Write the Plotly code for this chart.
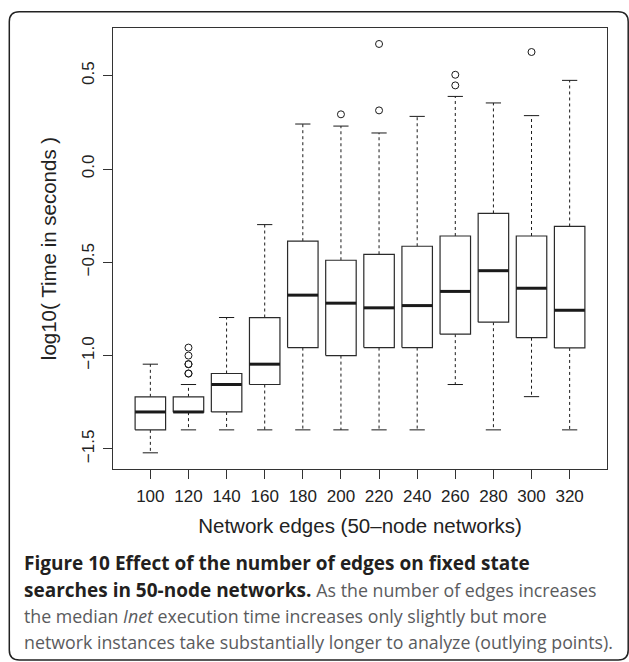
import plotly.graph_objects as go

# ---- data (log10 seconds) ----
categories = ["100", "120", "140", "160", "180", "200", "220", "240", "260", "280", "300", "320"]
q1 = [-1.398, -1.303, -1.302, -1.155, -0.957, -1.000, -0.957, -0.957, -0.885, -0.821, -0.904, -0.959]
median = [-1.302, -1.302, -1.155, -1.046, -0.676, -0.719, -0.744, -0.732, -0.656, -0.545, -0.639, -0.757]
q3 = [-1.221, -1.221, -1.096, -0.796, -0.387, -0.489, -0.457, -0.414, -0.359, -0.238, -0.359, -0.308]
lower_whisker = [-1.521, -1.398, -1.398, -1.398, -1.398, -1.398, -1.398, -1.398, -1.155, -1.398, -1.220, -1.398]
upper_whisker = [-1.046, -1.155, -0.796, -0.298, 0.241, 0.230, 0.193, 0.282, 0.389, 0.354, 0.286, 0.475]
outlier_cat = ["120", "120", "120", "120", "120", "120", "200", "220", "220", "260", "260", "300"]
outlier_val = [-0.957, -1.000, -1.046, -1.046, -1.096, -1.096, 0.293, 0.314, 0.670, 0.448, 0.505, 0.627]

ytick_vals = [-1.5, -1.0, -0.5, 0.0, 0.5]
ytick_text = ["\u22121.5", "\u22121.0", "\u22120.5", "0.0", "0.5"]

BOXW = 0.4   # half box width
CAPW = 0.2   # half staple width
LINE = "#1a1a1a"

pos = {c: i + 1 for i, c in enumerate(categories)}

bx, by = [], []
mx, my = [], []
wx, wy = [], []
cx, cy = [], []
for c, a, m, b, lo, hi in zip(categories, q1, median, q3, lower_whisker, upper_whisker):
    p = pos[c]
    bx += [p - BOXW, p + BOXW, p + BOXW, p - BOXW, p - BOXW, None]
    by += [a, a, b, b, a, None]
    mx += [p - BOXW, p + BOXW, None]
    my += [m, m, None]
    wx += [p, p, None, p, p, None]
    wy += [b, hi, None, a, lo, None]
    cx += [p - CAPW, p + CAPW, None, p - CAPW, p + CAPW, None]
    cy += [hi, hi, None, lo, lo, None]

fig = go.Figure()
fig.add_trace(go.Scatter(x=wx, y=wy, mode="lines", line=dict(color=LINE, width=1, dash="3px,3px"),
                         hoverinfo="skip", showlegend=False))
fig.add_trace(go.Scatter(x=cx, y=cy, mode="lines", line=dict(color=LINE, width=1),
                         hoverinfo="skip", showlegend=False))
fig.add_trace(go.Scatter(x=bx, y=by, mode="lines", line=dict(color="#2a2a2a", width=1.2),
                         fill="toself", fillcolor="white", hoverinfo="skip", showlegend=False))
fig.add_trace(go.Scatter(x=mx, y=my, mode="lines", line=dict(color=LINE, width=3),
                         hoverinfo="skip", showlegend=False))
fig.add_trace(go.Scatter(x=[pos[c] for c in outlier_cat], y=outlier_val, mode="markers",
                         marker=dict(symbol="circle-open", size=7, color=LINE, line=dict(width=1)),
                         hoverinfo="skip", showlegend=False))

W, H = 629, 662
L, R, T, B = 113, 22, 28, 193
PW, PH = W - L - R, H - T - B


def px(x):
    return (x - L) / PW


def py(y):
    return (H - B - y) / PH


AXFONT = "Liberation Sans, Arial, Helvetica, sans-serif"

fig.update_layout(
    width=W, height=H, autosize=False,
    margin=dict(l=L, r=R, t=T, b=B),
    paper_bgcolor="white", plot_bgcolor="white",
    xaxis=dict(range=[0.02, 12.98], tickmode="array", tickvals=list(range(1, len(categories) + 1)),
               ticktext=categories, showline=True, mirror=True, linecolor="#333333", linewidth=1,
               ticks="outside", ticklen=9, tickcolor="#333333", showgrid=False, zeroline=False,
               tickfont=dict(family=AXFONT, size=17, color="#222222"), ticklabelstandoff=3,
               title=dict(text="Network edges (50\u2013node networks)",
                          font=dict(family=AXFONT, size=20.5, color="#222222"), standoff=13)),
    yaxis=dict(range=[-1.6077, 0.7556], tickmode="array", tickvals=ytick_vals, ticktext=ytick_text,
               tickangle=-90, showline=True, mirror=True, linecolor="#333333", linewidth=1,
               ticks="outside", ticklen=9, tickcolor="#333333", showgrid=False, zeroline=False,
               tickfont=dict(family=AXFONT, size=17, color="#222222"), ticklabelstandoff=2,
               title=dict(text="log10( Time in seconds )",
                          font=dict(family=AXFONT, size=20.5, color="#222222"), standoff=17)),
)

# rounded frame around the figure + caption
x0, x1, y0, y1, r = 9.3, 628.2, 11.7, 660.0, 10
path = (f"M {px(x0 + r)},{py(y0)} L {px(x1 - r)},{py(y0)} "
        f"Q {px(x1)},{py(y0)} {px(x1)},{py(y0 + r)} L {px(x1)},{py(y1 - r)} "
        f"Q {px(x1)},{py(y1)} {px(x1 - r)},{py(y1)} L {px(x0 + r)},{py(y1)} "
        f"Q {px(x0)},{py(y1)} {px(x0)},{py(y1 - r)} L {px(x0)},{py(y0 + r)} "
        f"Q {px(x0)},{py(y0)} {px(x0 + r)},{py(y0)} Z")
fig.add_shape(type="path", path=path, xref="paper", yref="paper",
              line=dict(color="#222222", width=1.5), layer="below")

CAPFONT = "Open Sans, Noto Sans, sans-serif"
BOLDC = "#231f20"
REGC = "#5a5b5d"
RS = f"color:{REGC};font-size:17.8px"
caption_lines = [
    "<b>Figure 10 Effect of the number of edges on fixed state</b>",
    f"<b>searches in 50-node networks.</b> <span style='{RS}'>As the number of edges increases</span>",
    f"<span style='{RS}'>the median <i>Inet</i> execution time increases only slightly but more</span>",
    f"<span style='{RS}'>network instances take substantially longer to analyze (outlying points).</span>",
]
caption_y = [562.7, 590.0, 616.0, 641.7]
for txt, yy in zip(caption_lines, caption_y):
    fig.add_annotation(text=txt, xref="paper", yref="paper", x=px(22), y=py(yy),
                       xanchor="left", yanchor="middle", showarrow=False,
                       font=dict(family=CAPFONT, size=19, color=BOLDC))

fig.write_html("out.html", config={"displayModeBar": False},
               post_script="document.body.style.margin='0';")
